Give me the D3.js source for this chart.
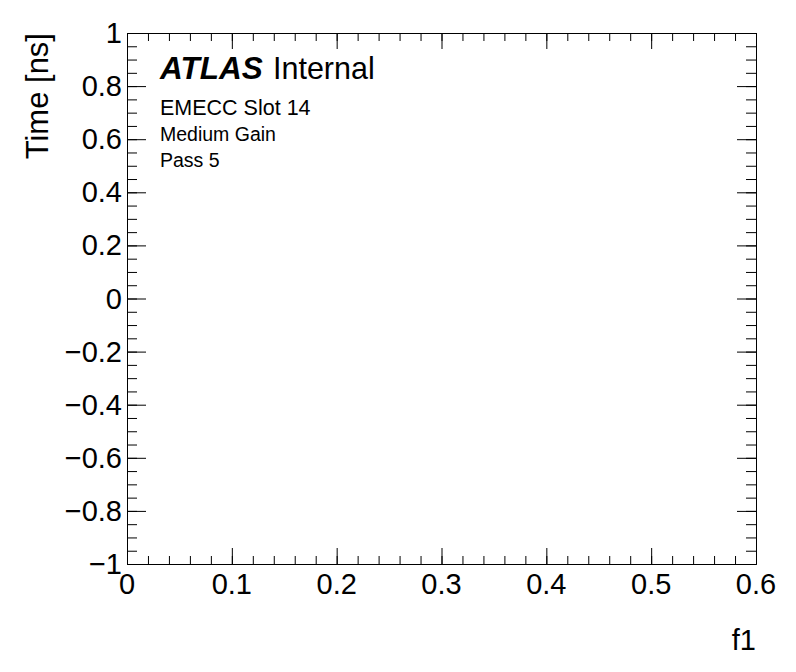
<!DOCTYPE html>
<html>
<head>
<meta charset="utf-8">
<script src="https://cdn.jsdelivr.net/npm/d3@7"></script>
<style>
  body { margin: 0; background: white; }
  svg { display: block; font-family: "Liberation Sans", Arial, Helvetica, sans-serif; }
</style>
</head>
<body>
<svg id="chart"></svg>
<script>
// axis ranges and tick labels
const xDomain = [0, 0.6];
const yDomain = [-1, 1];
const xTicks = [0, 0.1, 0.2, 0.3, 0.4, 0.5, 0.6];
const xTickLabels = ["0", "0.1", "0.2", "0.3", "0.4", "0.5", "0.6"];
const yTicks = [-1, -0.8, -0.6, -0.4, -0.2, 0, 0.2, 0.4, 0.6, 0.8, 1];
const yTickLabels = ["\u22121", "\u22120.8", "\u22120.6", "\u22120.4", "\u22120.2", "0", "0.2", "0.4", "0.6", "0.8", "1"];
const xTitle = "f1";
const yTitle = "Time [ns]";
const infoLines = ["EMECC Slot 14", "Medium Gain", "Pass 5"];

const width = 796;
const height = 672;
const frame = { left: 127, right: 756, top: 33, bottom: 564 };

const svg = d3.select("#chart")
    .attr("width", width)
    .attr("height", height);

const x = d3.scaleLinear().domain(xDomain).range([frame.left, frame.right]);
const y = d3.scaleLinear().domain(yDomain).range([frame.bottom, frame.top]);

//ticks pointing inwards on all four sides (root style)
function drawAxis(axisFn, scale, pos, major, minor, majorLen, minorLen) {
    const gMinor = svg.append("g").attr("transform", pos);
    axisFn(scale).tickValues(minor).tickSize(-minorLen).tickSizeOuter(0).tickFormat("")(gMinor);
    const gMajor = svg.append("g").attr("transform", pos);
    axisFn(scale).tickValues(major).tickSize(-majorLen).tickSizeOuter(0).tickFormat("")(gMajor);
    svg.selectAll("g path, g line").attr("stroke", "#000").attr("stroke-width", 1);
}

const xMinor = x.ticks(30);
const yMinor = y.ticks(40);

drawAxis(d3.axisBottom, x, `translate(0,${frame.bottom})`, xTicks, xMinor, 16, 8);
drawAxis(d3.axisTop, x, `translate(0,${frame.top})`, xTicks, xMinor, 16, 8);
drawAxis(d3.axisLeft, y, `translate(${frame.left},0)`, yTicks, yMinor, 19, 10);
drawAxis(d3.axisRight, y, `translate(${frame.right},0)`, yTicks, yMinor, 19, 10);

//tick labels
svg.append("g").selectAll("text")
    .data(xTicks)
    .enter()
    .append("text")
    .attr("x", d => x(d))
    .attr("y", 594)
    .attr("text-anchor", "middle")
    .style("font-size", "29px")
    .text((d, i) => xTickLabels[i]);

svg.append("g").selectAll("text")
    .data(yTicks)
    .enter()
    .append("text")
    .attr("x", 122)
    .attr("y", d => y(d) + 10)
    .attr("text-anchor", "end")
    .style("font-size", "29px")
    .text((d, i) => yTickLabels[i]);

//axis titles
svg.append("text")
    .attr("x", frame.right)
    .attr("y", 650)
    .attr("text-anchor", "end")
    .style("font-size", "29px")
    .text(xTitle);

svg.append("text")
    .attr("transform", `translate(48,${frame.top}) rotate(-90)`)
    .attr("text-anchor", "end")
    .style("font-size", "31px")
    .text(yTitle);

//atlas label
svg.append("text")
    .attr("x", 160)
    .attr("y", 79)
    .style("font-size", "31.5px")
    .style("font-weight", "bold")
    .style("font-style", "italic")
    .text("ATLAS");

svg.append("text")
    .attr("x", 273)
    .attr("y", 79)
    .style("font-size", "30.5px")
    .text("Internal");

const infoY = [115, 141, 167];
const infoSize = [21.5, 19.5, 19.5];
svg.append("g").selectAll("text")
    .data(infoLines)
    .enter()
    .append("text")
    .attr("x", 160)
    .attr("y", (d, i) => infoY[i])
    .style("font-size", (d, i) => infoSize[i] + "px")
    .text(d => d);
</script>
</body>
</html>
